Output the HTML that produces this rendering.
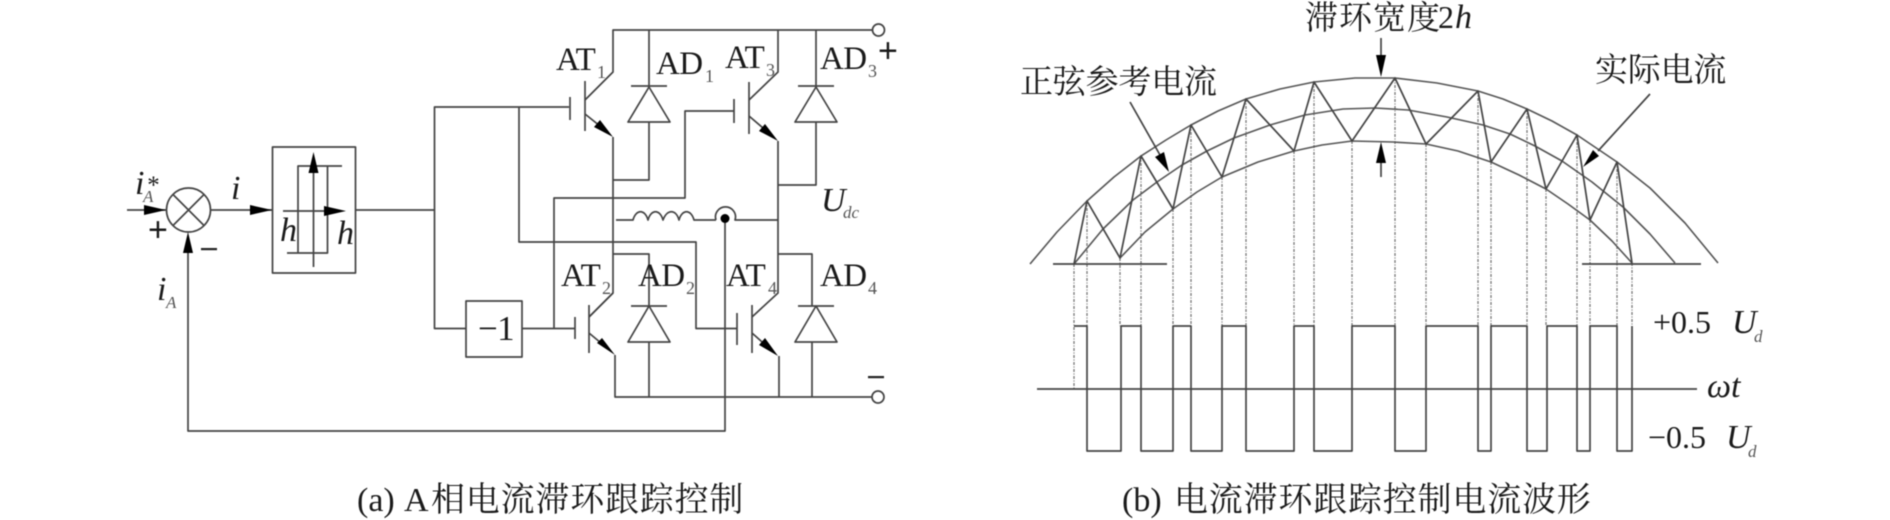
<!DOCTYPE html>
<html><head><meta charset="utf-8"><style>
html,body{margin:0;padding:0;background:#fff;width:1890px;height:520px;overflow:hidden}
svg{display:block;filter:blur(.5px)}
.l{fill:none;stroke:#444;stroke-width:1.7;stroke-linejoin:round}
.d{fill:none;stroke:#777;stroke-width:1.3;stroke-dasharray:3 1.5 1 1.5}
.z{fill:none;stroke:#444;stroke-width:1.7;stroke-linejoin:round}
.c{fill:none;stroke:#555;stroke-width:1.6;stroke-linejoin:round}
polygon.a{fill:#000;stroke:none}
text{fill:#1a1a1a;font-family:"Liberation Serif","Noto Serif CJK SC",serif}
.t{font-size:33px;letter-spacing:-.6px}
.s{font-size:18px;fill:#555}
.i{font-style:italic;font-size:34px}
.si{font-style:italic;font-size:17px;fill:#555}
.cn{font-size:33px;letter-spacing:-.2px}
.cap{font-size:34px;letter-spacing:.8px}
.n{font-size:32px}
</style></head><body>
<svg width="1890" height="520" viewBox="0 0 1890 520" xmlns="http://www.w3.org/2000/svg">
<!-- control -->
<g class="l">
<path d="M127 210H166"/>
<circle cx="188.5" cy="210" r="22"/>
<path d="M173 194.500L204 225.500M204 194.500L173 225.500"/>
<path d="M211 210H272"/>
<rect x="272.500" y="147" width="83" height="126"/>
<path d="M313.500 160V267M283 211H340"/>
<path d="M342 166H298V253M313 166H327.500V253H287"/>
<path d="M355.500 210H434.500"/>
<path d="M569 107H434.500V328.500H466"/>
<rect x="466" y="301" width="56" height="56"/>
<path d="M522 328.500H575"/>
<path d="M188 253V431H725V218"/>
<!-- AT1 -->
<path d="M570 97V120M585 81V131M519 107V242H696V328.500H737"/>
<path d="M585 100L613 72V30H872"/>
<path d="M585 114L605 130"/>
<path d="M613 137V293L589 317"/>
<!-- AD1 -->
<path d="M649 30V87M631 86H667M649 87L628 122H670ZM649 122V180H613"/>
<!-- AT3 -->
<path d="M554 328.500V198H685V111H734M734 99V123M749 82V134"/>
<path d="M749 100L778 72V30"/>
<path d="M749 116L770 134"/>
<path d="M778 141V293L752 317"/>
<!-- AD3 -->
<path d="M816 30V87M798 86H834M816 87L795 122H837ZM816 122V185H778"/>
<circle cx="878.500" cy="30" r="6"/>
<!-- AT2 -->
<path d="M575 317V339M589 305V353M613 293L589 317M589 333L607 348"/>
<path d="M615 355V397H872"/>
<!-- AD2 -->
<path d="M613 254H649V306M631 306H667M649 306L628 342H670ZM649 342V397"/>
<!-- AT4 -->
<path d="M737 313V345M752 305V353M752 333L770 349"/>
<path d="M779 356V397"/>
<!-- AD4 -->
<path d="M778 254H812V306M798 306H834M816 306L795 342H837ZM812 342V397"/>
<circle cx="878" cy="397" r="6"/>
<!-- inductor -->
<path d="M616 220H633C636 209 645 209 648 220C651 209 660 209 663 220C667 209 676 209 679 220C682 209 691 209 694 220H716"/>
<path d="M716 220A10 10 0 1 1 735 220H778"/>
</g>
<circle cx="725" cy="218.500" r="4.500" fill="#000"/>
<g>
<polygon class="a" points="144,205 166,210 144,215"/>
<polygon class="a" points="250,205 272,210 250,215"/>
<polygon class="a" points="183,253 188,232 193,253"/>
<polygon class="a" points="308.500,173 313.500,152 318.500,173"/>
<polygon class="a" points="324,206 346,211 324,216"/>
<polygon class="a" points="594,127 600,120 613,137"/>
<polygon class="a" points="759,131 765,124 778,141"/>
<polygon class="a" points="597,343 602,338 615,355"/>
<polygon class="a" points="759,345 765,338 778,356"/>
</g>
<!-- left labels -->
<text class="i" x="135" y="194">i</text><text class="si" x="143" y="202">A</text><text class="i" x="146" y="193" style="font-size:25px">*</text>
<text x="148" y="241" style="font-family:'Liberation Sans',sans-serif;font-size:34px">+</text>
<rect x="201" y="248" width="16" height="2.200" fill="#222"/>
<text class="i" x="231" y="199">i</text>
<text class="i" x="280" y="241">h</text>
<text class="i" x="337" y="244">h</text>
<text class="i" x="157" y="300">i</text><text class="si" x="166" y="308">A</text>
<text class="t" x="478" y="340" style="font-size:35px">−1</text>
<text class="t" x="556" y="70">AT</text><text class="s" x="597" y="78">1</text>
<text class="t" x="656" y="74">AD</text><text class="s" x="705" y="82">1</text>
<text class="t" x="725" y="68">AT</text><text class="s" x="766" y="76">3</text>
<text class="t" x="820" y="69">AD</text><text class="s" x="868" y="77">3</text>
<text class="t" x="561" y="286">AT</text><text class="s" x="602" y="294">2</text>
<text class="t" x="638" y="286">AD</text><text class="s" x="686" y="294">2</text>
<text class="t" x="726" y="286">AT</text><text class="s" x="768" y="294">4</text>
<text class="t" x="820" y="286">AD</text><text class="s" x="868" y="294">4</text>
<text x="878" y="62" style="font-family:'Liberation Sans',sans-serif;font-size:34px">+</text>
<rect x="868" y="376" width="16" height="2.200" fill="#222"/>
<text class="i" x="821" y="211">U</text><text class="si" x="843" y="218">dc</text>
<text class="cap" x="357" y="511" style="letter-spacing:0">(a)</text>
<text class="cap" x="404" y="511" style="letter-spacing:0">A</text>
<text class="cap" x="431" y="511">相电流滞环跟踪控制</text>
<!-- right -->
<g class="d">
<path d="M1074 264V389M1087 201V326M1120 258V326M1141 156V326M1173 209V326M1191 125V326M1222 177V326M1246 99V326M1294 151V326M1314 82V326M1352 141V326M1395 78V326M1426 144V326M1478 91V326M1491 162V326M1527 109V326M1546 189V326M1577 135V326M1590 220V326M1617 162V326M1632 263V326"/>
</g>
<g class="c">
<polyline points="1030,264 1057,232 1087,201 1114,177 1141,156 1166,140 1191,125 1218,111 1246,99 1280,89 1314,82 1355,78 1395,78 1437,83 1478,91 1503,99 1527,109 1552,121 1577,135 1617,162 1650,188 1685,223 1718,263"/>
<polyline points="1074,264 1103,229 1133,200 1157,182 1182,165 1207,151 1234,138 1270,125 1305,115 1343,109 1375,108 1408,110 1447,117 1483,125 1510,134 1535,146 1562,161 1592,182 1623,207 1650,234 1675,263"/>
<polyline points="1120,258 1145,232 1173,209 1197,192 1222,177 1258,162 1294,151 1322,145 1352,141 1393,142 1426,144 1458,151 1491,162 1519,175 1546,189 1568,204 1590,220 1612,241 1632,263"/>
</g>
<polyline class="z" points="1074,264 1087,201 1120,258 1141,156 1173,209 1191,125 1222,177 1246,99 1294,151 1314,82 1352,141 1395,78 1426,144 1478,91 1491,162 1527,109 1546,189 1577,135 1590,220 1617,162 1632,263"/>
<g class="l">
<path d="M1053 264H1167M1582 264H1701"/>
<path d="M1130 102L1160 155"/>
<path d="M1650 94L1598 151"/>
<path d="M1381 38V56M1381 162V177"/>
<path d="M1037 389H1697"/>
<path d="M1074 326H1087V451H1121V326H1141V451H1173V326H1191V451H1222V326H1246V451H1294V326H1314V451H1352V326H1395V451H1426V326H1478V451H1491V326H1527V451H1547V326H1577V451H1590V326H1617V451H1632V326"/>
</g>
<polygon class="a" points="1155,157 1164,152 1169,172"/>
<polygon class="a" points="1593,150 1599,156 1583,167"/>
<polygon class="a" points="1376,55 1386,55 1381,77"/>
<polygon class="a" points="1376,163 1386,163 1381,142"/>
<text class="cn" x="1020" y="93">正弦参考电流</text>
<text class="cn" x="1595" y="81">实际电流</text>
<text class="cn" x="1305" y="29" style="letter-spacing:1px">滞环宽度</text>
<text class="n" x="1438" y="28">2</text><text class="i" x="1455" y="28">h</text>
<text class="n" x="1653" y="333">+0.5</text>
<text class="i" x="1732" y="333">U</text><text class="si" x="1754" y="342">d</text>
<text class="n" x="1648" y="448">−0.5</text>
<text class="i" x="1726" y="448">U</text><text class="si" x="1748" y="457">d</text>
<text class="i" x="1707" y="397">ωt</text>
<text class="cap" x="1122" y="511" style="letter-spacing:0">(b)</text>
<text class="cap" x="1174" y="511">电流滞环跟踪控制电流波形</text>
</svg>
</body></html>
